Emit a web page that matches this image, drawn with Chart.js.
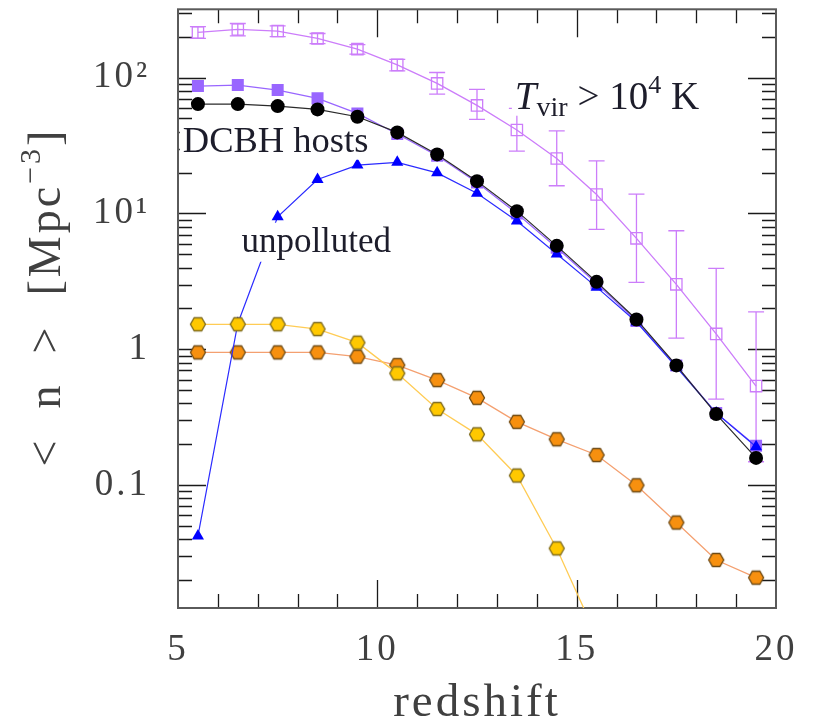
<!DOCTYPE html>
<html>
<head>
<meta charset="utf-8">
<script src="https://cdn.jsdelivr.net/npm/chart.js@4/dist/chart.umd.min.js"></script>
<style>
  html, body { margin: 0; padding: 0; background: #fff; }
</style>
</head>
<body>
<canvas id="densidad" width="814" height="725"></canvas>
<script>
// redshift bins and mean number densities [Mpc^-3]
const redshift = [5.5, 6.5, 7.5, 8.5, 9.5, 10.5, 11.5, 12.5, 13.5, 14.5, 15.5, 16.5, 17.5, 18.5, 19.5];
const atomicHalos = [215, 226, 220, 194, 162, 124, 90.6, 62.4, 41.1, 25.4, 13.8, 6.56, 3.01, 1.30, 0.537];
const atomicLow = [194, 203, 200, 178, 149, 112, 75.6, 49.3, 28.8, 16.0, 7.64, 3.11, 1.21, 0.431, 0.149];
const atomicHigh = [237, 250, 240, 211, 175, 136, 109, 81.9, 59.3, 40.6, 24.4, 13.9, 7.46, 3.94, 1.89];
const atomicFilled = [86.6, 88.1, 80.9, 70.3, 54.5, 38.5, 26.6, 16.9, 10.0, 5.6, 3.05, 1.62, 0.76, 0.34, 0.195];
const dcbhHosts = [63.8, 63.8, 61.7, 58.3, 51.5, 39.5, 27.2, 17.3, 10.4, 5.78, 3.14, 1.66, 0.762, 0.334, 0.159];
const unpolluted = [0.0423, 1.55, 9.46, 17.8, 22.7, 23.8, 19.9, 14.1, 8.79, 5.03, 2.87, 1.59, 0.742, 0.34, 0.192];
const hexYellow = [1.53, 1.53, 1.53, 1.41, 1.12, 0.666, 0.364, 0.237, 0.118, 0.0343, 0.0077, null, null, null, null];
const hexOrange = [0.95, 0.95, 0.95, 0.95, 0.883, 0.766, 0.594, 0.440, 0.293, 0.218, 0.167, 0.100, 0.0532, 0.0282, 0.0209];

const xTicks = [5, 10, 15, 20];
const yTicks = [0.1, 1, 10, 100];
const yTickText = ['0.1', '1', '10\u00b9', '10\u00b2'];

const serif = '"Liberation Serif", "Times New Roman", serif';
const violet = '#cc7dfa';
const axisInk = '#404040';

function pts(values) {
  return redshift.map((z, i) => ({ x: z, y: values[i] }));
}

// hexagon marker drawn once on a small canvas
function hexagon(fill, edge) {
  const c = document.createElement('canvas');
  c.width = 20; c.height = 20;
  const g = c.getContext('2d');
  g.beginPath();
  for (let k = 0; k < 6; k++) {
    const a = k * Math.PI / 3;
    const px = 10 + 7.5 * Math.cos(a), py = 10 + 7.5 * Math.sin(a);
    if (k) g.lineTo(px, py); else g.moveTo(px, py);
  }
  g.closePath();
  g.fillStyle = fill;
  g.fill();
  g.strokeStyle = edge;
  g.lineWidth = 1.3;
  g.stroke();
  return c;
}

// wider spacing for the axis numbers and titles
const espaciado = {
  id: 'espaciado',
  beforeDraw(chart) {
    if ('letterSpacing' in chart.ctx) chart.ctx.letterSpacing = '3px';
  },
  afterDraw(chart) {
    if ('letterSpacing' in chart.ctx) chart.ctx.letterSpacing = '0px';
  }
};

// inward ticks on all four sides plus the frame
const marcoEjes = {
  id: 'marcoEjes',
  beforeDatasetsDraw(chart) {
    const { ctx, chartArea: a, scales: { x, y } } = chart;
    ctx.save();
    ctx.strokeStyle = '#1a1a1a';
    ctx.lineWidth = 1.3;
    ctx.beginPath();
    for (let v = 6; v < 20; v++) {
      const px = Math.round(x.getPixelForValue(v)) + 0.5;
      const len = v % 5 === 0 ? 28 : 14;
      ctx.moveTo(px, a.bottom); ctx.lineTo(px, a.bottom - len);
      ctx.moveTo(px, a.top); ctx.lineTo(px, a.top + len);
    }
    for (let e = -2; e <= 2; e++) {
      for (let k = 1; k <= 9; k++) {
        const v = k * Math.pow(10, e);
        if (v <= y.min || v >= y.max) continue;
        const py = Math.round(y.getPixelForValue(v)) + 0.5;
        const len = k === 1 ? 28 : 14;
        ctx.moveTo(a.left, py); ctx.lineTo(a.left + len, py);
        ctx.moveTo(a.right, py); ctx.lineTo(a.right - len, py);
      }
    }
    ctx.stroke();
    ctx.strokeStyle = '#5a5a5a';
    ctx.lineWidth = 2;
    ctx.strokeRect(a.left, a.top, a.right - a.left, a.bottom - a.top);
    ctx.restore();
  }
};

// error bars of the open squares
const barrasError = {
  id: 'barrasError',
  beforeDatasetsDraw(chart) {
    const { ctx, chartArea: a, scales: { x, y } } = chart;
    ctx.save();
    ctx.beginPath();
    ctx.rect(a.left, a.top, a.right - a.left, a.bottom - a.top);
    ctx.clip();
    ctx.strokeStyle = violet;
    ctx.lineWidth = 1.3;
    ctx.beginPath();
    redshift.forEach((z, i) => {
      const px = x.getPixelForValue(z);
      const lo = y.getPixelForValue(atomicLow[i]);
      const hi = y.getPixelForValue(atomicHigh[i]);
      ctx.moveTo(px, lo); ctx.lineTo(px, hi);
      ctx.moveTo(px - 8, lo); ctx.lineTo(px + 8, lo);
      ctx.moveTo(px - 8, hi); ctx.lineTo(px + 8, hi);
    });
    ctx.stroke();
    ctx.restore();
  }
};

// text pieces with their own font and baseline shift, on a white box
function etiqueta(ctx, piezas, x0, base, top, bottom) {
  let w = 0;
  piezas.forEach(p => { ctx.font = p.font; w += ctx.measureText(p.text).width; });
  ctx.fillStyle = '#fff';
  ctx.fillRect(x0 - 3, base - top, w + 6, top + bottom);
  ctx.fillStyle = '#1d1d2b';
  let cx = x0;
  piezas.forEach(p => {
    ctx.font = p.font;
    ctx.fillText(p.text, cx, base + (p.dy || 0));
    cx += ctx.measureText(p.text).width;
  });
}

const notas = {
  id: 'notas',
  afterDatasetsDraw(chart) {
    const { ctx, scales: { x, y } } = chart;
    ctx.save();
    if ('letterSpacing' in ctx) ctx.letterSpacing = '0px';
    ctx.textBaseline = 'alphabetic';
    const big = '39px ' + serif, small = '28px ' + serif;
    etiqueta(ctx, [
      { text: 'T', font: 'italic ' + big },
      { text: 'vir', font: small, dy: 7 },
      { text: ' > 10', font: big },
      { text: '4', font: '26px ' + serif, dy: -16 },
      { text: ' K', font: big }
    ], x.getPixelForValue(13.45), y.getPixelForValue(59), 36, 7);
    etiqueta(ctx, [{ text: 'DCBH hosts', font: '36.5px ' + serif }],
      x.getPixelForValue(5.12), y.getPixelForValue(28.5), 27, 8);
    etiqueta(ctx, [{ text: 'unpolluted', font: '35px ' + serif }],
      x.getPixelForValue(6.59), y.getPixelForValue(5.23), 29, 10);
    ctx.restore();
  }
};

// rotated y-axis title with superscript
const tituloY = {
  id: 'tituloY',
  afterDraw(chart) {
    const { ctx } = chart;
    const partes = [
      { text: '<  n  >  [Mpc', font: '46px ' + serif, dy: 0 },
      { text: '\u22123', font: '30px ' + serif, dy: -20 },
      { text: ']', font: '46px ' + serif, dy: 0 }
    ];
    ctx.save();
    ctx.fillStyle = axisInk;
    ctx.textBaseline = 'alphabetic';
    if ('letterSpacing' in ctx) ctx.letterSpacing = '3px';
    let w = 0;
    partes.forEach(p => { ctx.font = p.font; w += ctx.measureText(p.text).width; });
    ctx.translate(45, 297);
    ctx.rotate(-Math.PI / 2);
    let cx = -w / 2;
    partes.forEach(p => {
      ctx.font = p.font;
      ctx.fillText(p.text, cx, 15 + p.dy);
      cx += ctx.measureText(p.text).width;
    });
    ctx.restore();
  }
};

const yellowHex = hexagon('#ffc800', '#7d6a1e');
const orangeHex = hexagon('#f7900f', '#6e4a14');

// lower order is drawn on top
new Chart(document.getElementById('densidad'), {
  type: 'line',
  data: {
    datasets: [
      {
        data: pts(hexYellow), order: 0,
        borderColor: '#ffcc55', borderWidth: 1.3,
        pointStyle: yellowHex
      },
      {
        data: pts(dcbhHosts), order: 1,
        borderColor: '#2a2a2a', borderWidth: 1.2,
        pointStyle: 'circle', pointRadius: 7,
        pointBackgroundColor: '#000', pointBorderColor: '#000', pointBorderWidth: 0
      },
      {
        data: pts(unpolluted), order: 2,
        borderColor: '#2b2bff', borderWidth: 1.2,
        pointStyle: 'triangle', pointRadius: 7,
        pointBackgroundColor: '#0000ff', pointBorderColor: '#0000ff', pointBorderWidth: 0
      },
      {
        data: pts(atomicFilled), order: 3,
        borderColor: '#9966ff', borderWidth: 1.2,
        pointStyle: 'rect', pointRadius: 8.5,
        pointBackgroundColor: '#9966ff', pointBorderColor: '#9966ff', pointBorderWidth: 0
      },
      {
        data: pts(atomicHalos), order: 4,
        borderColor: violet, borderWidth: 1.3,
        pointStyle: 'rect', pointRadius: 8,
        pointBackgroundColor: 'rgba(0,0,0,0)', pointBorderColor: violet, pointBorderWidth: 1.3
      },
      {
        data: pts(hexOrange), order: 5,
        borderColor: '#f4a070', borderWidth: 1.3,
        pointStyle: orangeHex
      }
    ]
  },
  options: {
    responsive: false,
    animation: false,
    events: [],
    layout: { padding: { left: 0, right: 38, top: 9, bottom: 0 } },
    elements: { line: { tension: 0 } },
    plugins: { legend: { display: false }, tooltip: { enabled: false } },
    scales: {
      x: {
        type: 'linear', min: 5, max: 20,
        grid: { display: false, drawTicks: false },
        border: { display: false },
        afterBuildTicks: s => { s.ticks = xTicks.map(v => ({ value: v })); },
        afterFit: s => { s.height = 117; s.paddingLeft = 0; s.paddingRight = 0; },
        ticks: {
          padding: 20, maxRotation: 0, autoSkip: false,
          color: axisInk, font: { family: serif, size: 37 }
        },
        title: {
          display: true, text: 'redshift', color: axisInk,
          font: { family: serif, size: 47, lineHeight: 0.9 },
          padding: { top: 0, bottom: 0 }
        }
      },
      y: {
        type: 'logarithmic', min: 0.0125, max: 318,
        grid: { display: false, drawTicks: false },
        border: { display: false },
        afterBuildTicks: s => { s.ticks = yTicks.map(v => ({ value: v })); },
        afterFit: s => { s.width = 178; s.paddingTop = 0; s.paddingBottom = 0; },
        ticks: {
          padding: 28, autoSkip: false,
          callback: v => yTickText[yTicks.indexOf(v)],
          color: axisInk, font: { family: serif, size: 37 }
        }
      }
    }
  },
  plugins: [espaciado, marcoEjes, barrasError, notas, tituloY]
});
</script>
</body>
</html>
